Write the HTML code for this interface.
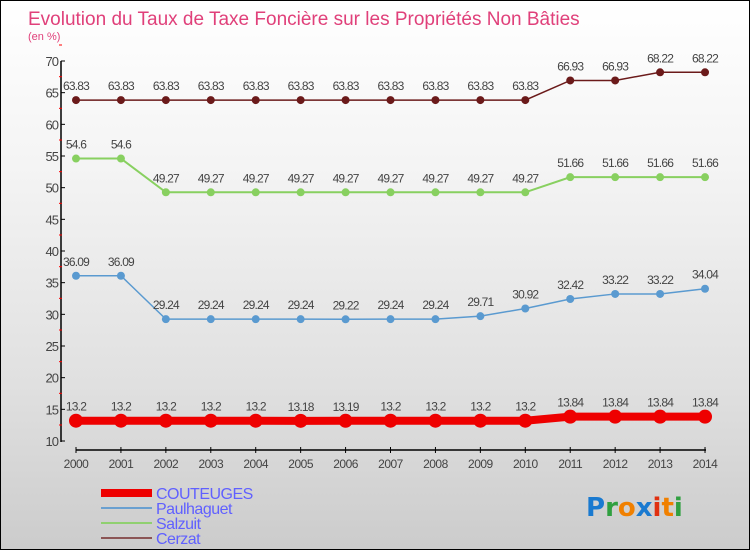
<!DOCTYPE html>
<html><head><meta charset="utf-8"><style>
body{margin:0}
#c{width:748px;height:548px;border:1px solid #000;background:linear-gradient(#ffffff,#f4f4f4 30%,#e0e0e0 70%,#cccccc);position:relative;font-family:"Liberation Sans",sans-serif}
</style></head><body>
<div id="c">
<svg id="s" width="748" height="548" style="position:absolute;left:0;top:0"></svg>
</div>
<script>
const years=[2000,2001,2002,2003,2004,2005,2006,2007,2008,2009,2010,2011,2012,2013,2014];
const couteuges=[13.2,13.2,13.2,13.2,13.2,13.18,13.19,13.2,13.2,13.2,13.2,13.84,13.84,13.84,13.84];
const paulhaguet=[36.09,36.09,29.24,29.24,29.24,29.24,29.22,29.24,29.24,29.71,30.92,32.42,33.22,33.22,34.04];
const salzuit=[54.6,54.6,49.27,49.27,49.27,49.27,49.27,49.27,49.27,49.27,49.27,51.66,51.66,51.66,51.66];
const cerzat=[63.83,63.83,63.83,63.83,63.83,63.83,63.83,63.83,63.83,63.83,63.83,66.93,66.93,68.22,68.22];
const yTicks=[10,15,20,25,30,35,40,45,50,55,60,65,70];
const NS="http://www.w3.org/2000/svg";
const svg=document.getElementById('s');
const X=i=>75+i*44.93, Y=v=>440-(v-10)*380/60;
function el(t,a,p){const e=document.createElementNS(NS,t);for(const k in a)e.setAttribute(k,a[k]);(p||svg).appendChild(e);return e;}
let t=el('text',{x:27,y:24,'font-size':19,fill:'#e0407a'});t.textContent='Evolution du Taux de Taxe Foncière sur les Propriétés Non Bâties';


t=el('text',{x:27,y:39,'font-size':11,fill:'#e0407a'});t.textContent='(en %)';


let a=el('line',{x1:60,y1:60,x2:60,y2:441,stroke:'#000','stroke-width':1.5});


a=el('line',{x1:75,y1:449,x2:705,y2:449,stroke:'#000','stroke-width':1.5});


yTicks.forEach(v=>{const y=Y(v);
 el('line',{x1:60,y1:y,x2:64,y2:y,stroke:'#000'});
 el('line',{x1:58,y1:y-16,x2:61,y2:y-16,stroke:'#f00'});
 const tt=el('text',{x:57,y:y+5,'font-size':13,fill:'#444','text-anchor':'end','letter-spacing':'-1'});tt.textContent=v;
 
 
});
years.forEach((yr,i)=>{const x=X(i);
 el('line',{x1:x,y1:446,x2:x,y2:452,stroke:'#000'});
 const tt=el('text',{x:x,y:467,'font-size':12,fill:'#444','text-anchor':'middle','letter-spacing':'-0.5'});tt.textContent=yr;
 
 
});
function series(d,color,w,r,name){
 const p=el('polyline',{points:d.map((v,i)=>X(i)+','+Y(v)).join(' '),fill:'none',stroke:color,'stroke-width':w});
 
 
 d.forEach((v,i)=>{const c=el('circle',{cx:X(i),cy:Y(v),r:r,fill:color});
  
  
  const tt=el('text',{x:X(i),y:Y(v)-10,'font-size':12,fill:'#444','text-anchor':'middle','letter-spacing':'-0.8'});tt.textContent=v;
  
  
 });
}
series(cerzat,'#6b1a1a',1.5,4,'cerzat');
series(salzuit,'#88d060',2,4,'salzuit');
series(paulhaguet,'#5a9ad0',1.5,4,'paulhaguet');
series(couteuges,'#ee0000',8,7,'couteuges');
const leg=[['COUTEUGES','#ee0000',8,493],['Paulhaguet','#6aa0d0',2,508],['Salzuit','#90d070',2,523],['Cerzat','#8b5555',2,538]];
leg.forEach(l=>{
 const g=el('g',{});
 
 
 el('line',{x1:100,y1:l[3]-1,x2:151,y2:l[3]-1,stroke:l[1],'stroke-width':l[2]},g);
 const tt=el('text',{x:155,y:l[3]+5,'font-size':16,fill:'#6060ff','letter-spacing':'-0.5'},g);tt.textContent=l[0];
});
const logo=el('text',{x:585,y:515,'font-size':26,'font-family':'"DejaVu Sans",sans-serif','font-weight':'bold'});


[['P','#1a7ad0'],['r','#30a040'],['o','#f08000'],['x','#1a7ad0'],['i','#e03010'],['t','#f08000'],['i','#30a040']].forEach(c=>{const s=el('tspan',{fill:c[1]},logo);s.textContent=c[0];});
</script>
</body></html>
